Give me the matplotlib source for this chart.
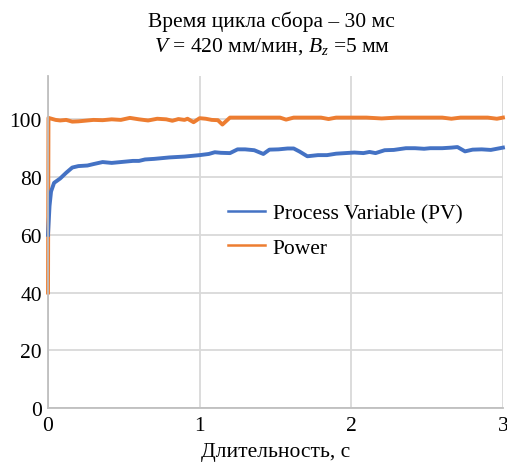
import matplotlib
matplotlib.use("Agg")
import matplotlib.pyplot as plt

plt.rcParams['font.family'] = ['Liberation Serif', 'DejaVu Serif']
plt.rcParams['mathtext.fontset'] = 'custom'
plt.rcParams['mathtext.rm'] = 'Liberation Serif'
plt.rcParams['mathtext.it'] = 'Liberation Serif:italic'

pv_t = [0, 0.01, 0.02, 0.04, 0.08, 0.12, 0.16, 0.2, 0.26, 0.3, 0.36, 0.42, 0.5, 0.56, 0.6, 0.64,
        0.7, 0.8, 0.9, 1.0, 1.06, 1.1, 1.14, 1.2, 1.25, 1.3, 1.36, 1.42, 1.46, 1.52, 1.58, 1.62,
        1.66, 1.71, 1.78, 1.84, 1.9, 1.96, 2.02, 2.08, 2.12, 2.16, 2.22, 2.28, 2.36, 2.42, 2.48,
        2.52, 2.6, 2.66, 2.70, 2.75, 2.8, 2.86, 2.92, 2.96, 3.0]
pv_v = [60, 70, 75, 78, 79.5, 81.5, 83.3, 83.8, 84, 84.5, 85.2, 84.9, 85.3, 85.6, 85.6, 86.1,
        86.3, 86.8, 87.1, 87.6, 88.0, 88.6, 88.4, 88.3, 89.6, 89.6, 89.3, 88.0, 89.5, 89.6, 89.9, 89.9,
        88.8, 87.2, 87.6, 87.6, 88.1, 88.3, 88.5, 88.3, 88.7, 88.3, 89.3, 89.4, 90.0, 90.0, 89.8,
        90.0, 90.0, 90.2, 90.4, 88.9, 89.5, 89.6, 89.4, 89.8, 90.2]

pw_t = [0, 0.003, 0.05, 0.08, 0.12, 0.16, 0.2, 0.26, 0.3, 0.36, 0.42, 0.48, 0.54, 0.6, 0.66, 0.72,
        0.78, 0.82, 0.86, 0.9, 0.92, 0.96, 1.0, 1.04, 1.08, 1.12, 1.15, 1.2, 1.3, 1.4, 1.53, 1.57,
        1.62, 1.8, 1.85, 1.9, 2.1, 2.2, 2.3, 2.6, 2.66, 2.72, 2.9, 2.96, 3.0]
pw_v = [40, 100.5, 99.8, 99.6, 99.8, 99.2, 99.3, 99.6, 99.8, 99.7, 100, 99.8, 100.5, 100, 99.6, 100.2,
        100, 99.5, 100.1, 99.8, 100.2, 99.0, 100.4, 100.2, 99.8, 99.7, 98.2, 100.6, 100.6, 100.6, 100.6, 99.9,
        100.6, 100.6, 100.1, 100.6, 100.6, 100.3, 100.6, 100.6, 100.2, 100.6, 100.6, 100.2, 100.6]

x_ticks = [0, 1, 2, 3]
y_ticks = [0, 20, 40, 60, 80, 100]

FS = 15.5
fig = plt.figure(figsize=(5.07, 4.64), dpi=100)
ax = fig.add_axes([0.0947, 0.1185, 0.8973, 0.7155])

grid_c = '#D9D9D9'
ax.plot(pw_t, pw_v, color='#ED7D31', lw=2.8, label='Power', solid_joinstyle='round', clip_on=False)
ax.plot(pv_t, pv_v, color='#4472C4', lw=2.8, label='Process Variable (PV)', solid_joinstyle='round', clip_on=False)

ax.set_xlim(0, 3)
ax.set_ylim(0, 115)
ax.set_xticks(x_ticks)
ax.set_yticks(y_ticks)
ax.grid(True, color=grid_c, lw=1.3)
ax.set_axisbelow(True)
for s in ['top', 'right']:
    ax.spines[s].set_visible(False)
for s in ['left', 'bottom']:
    ax.spines[s].set_color('#BFBFBF')
    ax.spines[s].set_linewidth(1.3)
ax.tick_params(length=0, labelsize=FS)
ax.tick_params(axis='x', pad=6)
ax.tick_params(axis='y', pad=4.5)
ax.set_xlabel('Длительность, с', fontsize=FS, labelpad=5)

h, l = ax.get_legend_handles_labels()
leg = ax.legend(h[::-1], l[::-1], loc='center left', bbox_to_anchor=(0.396, 0.535), frameon=False,
                fontsize=FS, handlelength=1.72, handletextpad=0.35, labelspacing=0.68,
                borderpad=0, borderaxespad=0)
for line in leg.get_lines():
    line.set_linewidth(1.8)

fig.text(0.536, 0.953, 'Время цикла сбора – 30 мс', ha='center', va='center', fontsize=FS)
fig.text(0.536, 0.899, '$V$ = 420 мм/мин, $B_z$ =5 мм', ha='center', va='center', fontsize=FS)

fig.savefig('out.png', dpi=100)
